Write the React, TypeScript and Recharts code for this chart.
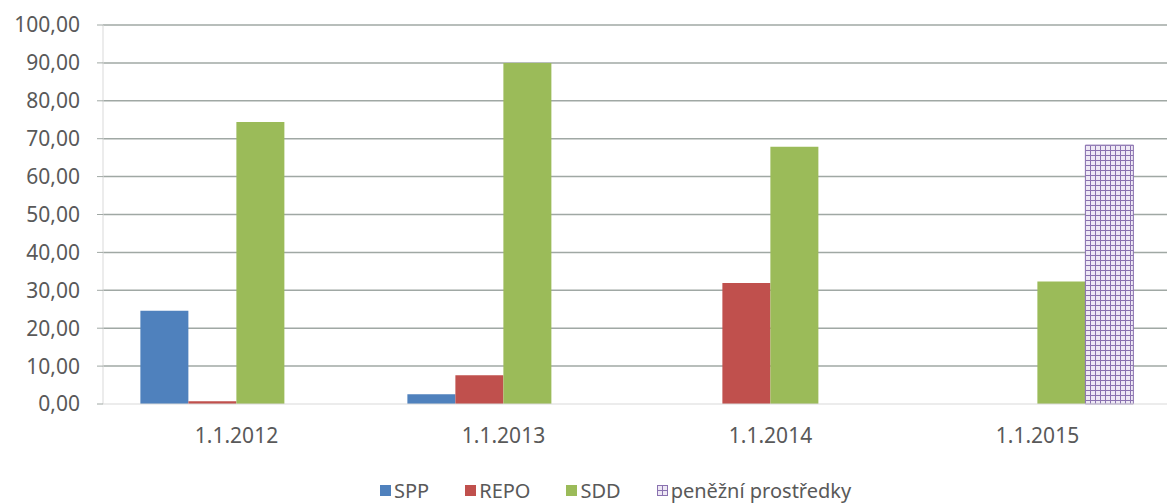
import { BarChart, Bar, XAxis, YAxis, CartesianGrid, Legend } from "recharts";

const DATES = ["1.1.2012", "1.1.2013", "1.1.2014", "1.1.2015"];
const SPP = [24.6, 2.6, 0, 0];
const REPO = [0.7, 7.6, 31.9, 0];
const SDD = [74.4, 90.0, 67.9, 32.3];
const CASH = [0, 0, 0, 68.3];
const Y_TICKS = [0, 10, 20, 30, 40, 50, 60, 70, 80, 90, 100];

const SERIES = [
  { key: "spp", name: "SPP", fill: "#4f81bd" },
  { key: "repo", name: "REPO", fill: "#c0504d" },
  { key: "sdd", name: "SDD", fill: "#9bbb59" },
  { key: "cash", name: "peněžní prostředky", fill: "url(#cashGrid)" },
];

const FONT = "'Noto Sans', 'DejaVu Sans', sans-serif";
const TEXT = "#595959";
const GRID = "#a0a8a4";

const fmt = (v: number) => v.toFixed(2).replace(".", ",");

function LegendBox() {
  return (
    <div style={{ display: "flex", alignItems: "center", height: 28, fontFamily: FONT, fontSize: 20, color: TEXT }}>
      {SERIES.map((s, i) => (
        <div key={s.key} style={{ display: "flex", alignItems: "center", marginRight: i < SERIES.length - 1 ? 36 : 0 }}>
          <svg width={11} height={11} style={{ marginRight: 3 }}>
            <rect x={0} y={0} width={11} height={11} fill={s.fill} />
          </svg>
          <span>{s.name}</span>
        </div>
      ))}
    </div>
  );
}

export default function App() {
  const rows = DATES.map((d, i) => ({ date: d, spp: SPP[i], repo: REPO[i], sdd: SDD[i], cash: CASH[i] }));
  return (
    <div style={{ position: "absolute", left: 0, top: 0, width: 1167, height: 504, overflow: "hidden", background: "#fff" }}>
      <BarChart
        width={1171}
        height={504}
        data={rows}
        margin={{ top: 25, right: 0, left: 0, bottom: 0 }}
        barCategoryGap="14%"
        barGap={0}
      >
        <defs>
          <pattern id="cashGrid" patternUnits="userSpaceOnUse" width={5} height={5}>
            <rect x={0} y={0} width={5} height={5} fill="#eee8f5" />
            <path d="M0 0.5H5M0.5 0V5" stroke="#8a72b0" strokeWidth={1} />
          </pattern>
        </defs>
        <CartesianGrid vertical={false} stroke={GRID} strokeWidth={1.5} horizontalValues={Y_TICKS.slice(1)} />
        <XAxis
          dataKey="date"
          height={72}
          tickLine={false}
          tickSize={6}
          tickMargin={18}
          axisLine={{ stroke: "#d9d9d9" }}
          tick={{ fontSize: 21, fill: TEXT, fontFamily: FONT }}
        />
        <YAxis
          width={103}
          domain={[0, 100]}
          ticks={Y_TICKS}
          tickFormatter={fmt}
          tickSize={6}
          tickMargin={17}
          tickLine={{ stroke: GRID }}
          axisLine={{ stroke: "#d9d9d9" }}
          tick={{ fontSize: 21, fill: TEXT, fontFamily: FONT }}
        />
        <Legend content={<LegendBox />} wrapperStyle={{ left: 380, bottom: 0, width: 700 }} />
        {SERIES.map((s) => (
          <Bar
            key={s.key}
            dataKey={s.key}
            name={s.name}
            fill={s.fill}
            stroke={s.key === "cash" ? "#8a72b0" : undefined}
            strokeWidth={s.key === "cash" ? 1 : 0}
            isAnimationActive={false}
          />
        ))}
      </BarChart>
    </div>
  );
}
